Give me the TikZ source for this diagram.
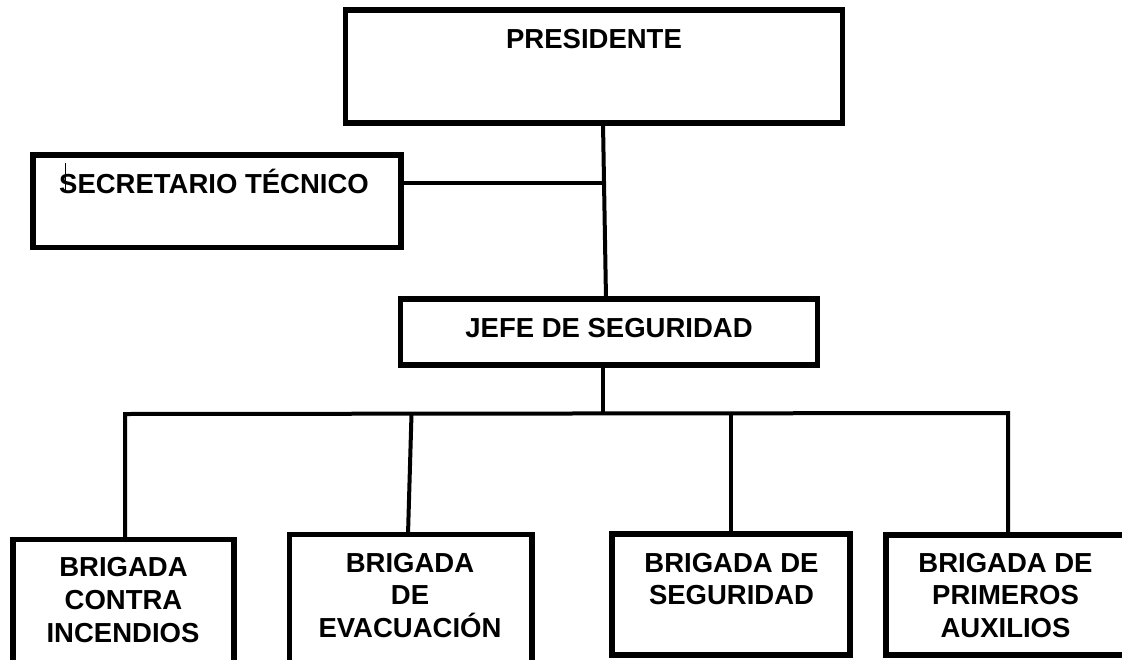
\documentclass[tikz,border=0pt]{standalone}
\usepackage{fontspec}
\setmainfont{Liberation Sans}
\begin{document}
\begin{tikzpicture}[x=1pt,y=-1pt,
  box/.style={draw,line width=5.5pt,rectangle,inner sep=0pt,outer sep=0pt},
  conn/.style={line width=4pt},
  lbl/.style={font=\bfseries\fontsize{27.5}{32.5}\selectfont,anchor=base,inner sep=0pt}]
\useasboundingbox (0,0) rectangle (1122,659);
\fill[white] (0,0) rectangle (1122,659);
% boxes
\node[box,minimum width=497pt,minimum height=113pt] (pres) at (594,66.5) {};
\node[box,minimum width=368pt,minimum height=92.5pt] (sec) at (217,201.25) {};
\node[box,minimum width=417pt,minimum height=66pt] (jefe) at (609,332) {};
\node[box,minimum width=221pt,minimum height=180.5pt] (b1) at (123.5,629.75) {};
\node[box,minimum width=242.5pt,minimum height=185.5pt] (b2) at (410.75,627.25) {};
\node[box,minimum width=238pt,minimum height=121pt] (b3) at (731,594.5) {};
\node[box,minimum width=240pt,minimum height=120pt] (b4) at (1006,595) {};
% texts
\node[lbl] (tpres) at (594,48) {PRESIDENTE};
\node[lbl,anchor=base west] (tsec) at (59,193) {SECRETARIO TÉCNICO};
\node[lbl] (tjefe) at (609,337) {JEFE DE SEGURIDAD};
\node[lbl] (tb1a) at (123.5,576) {BRIGADA};
\node[lbl] (tb1b) at (123.5,609) {CONTRA};
\node[lbl] (tb1c) at (123,642) {INCENDIOS};
\node[lbl] (tb2a) at (410,572) {BRIGADA};
\node[lbl] (tb2b) at (410,604.5) {DE};
\node[lbl] (tb2c) at (410,637) {EVACUACIÓN};
\node[lbl] (tb3a) at (731.5,572) {BRIGADA DE};
\node[lbl] (tb3b) at (731.5,604.5) {SEGURIDAD};
\node[lbl] (tb4a) at (1005.5,572) {BRIGADA DE};
\node[lbl] (tb4b) at (1005.5,604.5) {PRIMEROS};
\node[lbl] (tb4c) at (1005.5,637) {AUXILIOS};
% cursor mark
\coordinate (cur1) at (65.7,163);
\coordinate (cur2) at (65.7,193);
\draw[line width=1pt] (cur1) -- (cur2);
% connectors
\coordinate (secj) at (604.5,183.25);
\coordinate (busL) at (125,414);
\coordinate (busR) at (1008,413);
\draw[conn] ([xshift=9pt]pres.south) -- ([xshift=-3pt]jefe.north);
\draw[conn] ([yshift=18pt]sec.east) -- (secj);
\draw[conn] ([xshift=-6pt]jefe.south) -- ([xshift=-6pt]jefe.south |- busL);
\draw[conn] (busL |- b1.north) -- (busL) -- (busR) -- (busR |- b4.north);
\draw[conn] ([xshift=0.75pt]b2.north |- busL) -- ([xshift=-2.75pt]b2.north);
\draw[conn] (b3.north |- busL) -- (b3.north);
\end{tikzpicture}
\end{document}
